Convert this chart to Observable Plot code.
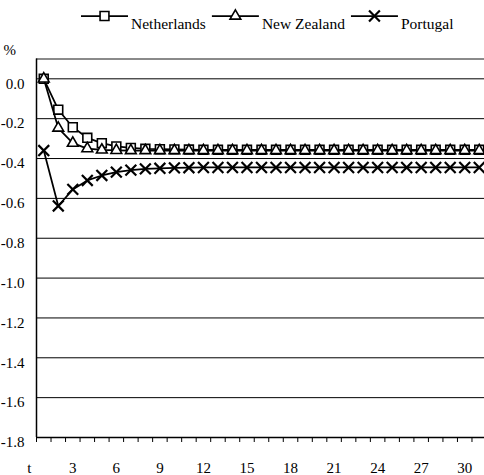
<!DOCTYPE html>
<html><head><meta charset="utf-8">
<script src="https://cdn.jsdelivr.net/npm/d3@7"></script>
<script src="https://cdn.jsdelivr.net/npm/@observablehq/plot@0.6"></script>
<style>
body{margin:0;background:#fff;font-family:"Liberation Serif","Times New Roman",serif}
#legend svg, #chart svg{display:block}
</style>
</head><body><div id="legend"></div><div id="chart"></div>
<script>
const periods = [1,2,3,4,5,6,7,8,9,10,11,12,13,14,15,16,17,18,19,20,21,22,23,24,25,26,27,28,29,30,31];
const netherlands = [0,-0.155,-0.243,-0.296,-0.323,-0.339,-0.347,-0.351,-0.353,-0.354,-0.355,
  -0.356,-0.356,-0.356,-0.356,-0.356,-0.356,-0.356,-0.356,-0.356,-0.356,
  -0.356,-0.356,-0.356,-0.356,-0.356,-0.356,-0.356,-0.356,-0.356,-0.356];
const newZealand = [0,-0.247,-0.323,-0.350,-0.357,-0.359,-0.360,-0.360,-0.360,-0.360,-0.360,
  -0.360,-0.360,-0.360,-0.360,-0.360,-0.360,-0.360,-0.360,-0.360,-0.360,
  -0.360,-0.360,-0.360,-0.360,-0.360,-0.360,-0.360,-0.360,-0.360,-0.360];
const portugal = [-0.360,-0.638,-0.555,-0.510,-0.485,-0.468,-0.458,-0.452,-0.449,-0.447,-0.446,
  -0.445,-0.445,-0.445,-0.445,-0.445,-0.445,-0.445,-0.445,-0.445,-0.445,
  -0.445,-0.445,-0.445,-0.445,-0.445,-0.445,-0.445,-0.445,-0.445,-0.445];
const seriesNames = ["Netherlands", "New Zealand", "Portugal"];
const seriesSymbols = ["square", "triangle", "times"];
const yTicks = [-1.8,-1.6,-1.4,-1.2,-1.0,-0.8,-0.6,-0.4,-0.2,0.0];
const yGrid = [-1.6,-1.4,-1.2,-1.0,-0.8,-0.6,-0.4,-0.2,0.0];
const yTop = 0.1;
const xTickValues = [0,3,6,9,12,15,18,21,24,27,30];
const xTickLabels = ["t","3","6","9","12","15","18","21","24","27","30"];
const unitLabel = "%";

const FONT = '"Liberation Serif","Times New Roman",serif';
const seriesValues = [netherlands, newZealand, portugal];
const rows = seriesNames.map((name, s) => periods.map((p, i) => ({period: p, value: seriesValues[s][i], series: name})));
const boundaries = d3.range(0.5, 32, 1);
const symbolR = {square: 5, triangle: 4, times: 5};
const symbolW = {square: 1.6, triangle: 1.6, times: 2.2};

// Legend
const lg = d3.select("#legend").append("svg").attr("width", 484).attr("height", 32)
  .style("font-family", FONT).style("font-size", "15.5px");
const d3sym = {square: d3.symbolSquare, triangle: d3.symbolTriangle, times: d3.symbolTimes};
let lx = 81;
seriesNames.forEach((name, s) => {
  const sym = seriesSymbols[s];
  lg.append("line").attr("x1", lx).attr("x2", lx + 47).attr("y1", 16).attr("y2", 16)
    .attr("stroke", "black").attr("stroke-width", 1.75);
  lg.append("path").attr("d", d3.symbol(d3sym[sym], Math.PI * symbolR[sym] ** 2)())
    .attr("transform", `translate(${lx + 23.5},16)`)
    .attr("fill", "white").attr("stroke", "black").attr("stroke-width", symbolW[sym]);
  const t = lg.append("text").attr("x", lx + 50).attr("y", 29.3).attr("fill", "black").text(name);
  lx = lx + 50 + t.node().getComputedTextLength() + 6;
});

const H = 443;
const marks = [
  Plot.ruleY(yGrid, {stroke: "black", strokeWidth: 1}),
  Plot.ruleY([yTop], {stroke: "#8a8a8a", strokeWidth: 2}),
  Plot.ruleY([-1.8], {stroke: "black", strokeWidth: 1.5}),
  Plot.ruleX([0.5], {y1: -1.8, y2: yTop, stroke: "black", strokeWidth: 1.5}),
  Plot.axisY({ticks: yTicks, tickSize: 4, tickPadding: 8, tickFormat: d => d.toFixed(1), dy: 5, label: null, fontSize: 15, fill: "black", stroke: null}),
  Plot.axisX({ticks: boundaries, tickSize: 5, tickFormat: () => "", label: null}),
  Plot.axisX({ticks: xTickValues, tickSize: 0, tickPadding: 25, tickFormat: d => xTickLabels[xTickValues.indexOf(d)], label: null, fontSize: 15}),
  Plot.text([unitLabel], {frameAnchor: "top-left", dx: -33, dy: -15, textAnchor: "start", fontSize: 15, fill: "black"})
];
rows.forEach((r, s) => {
  const sym = seriesSymbols[s];
  marks.push(Plot.line(r, {x: "period", y: "value", stroke: "black", strokeWidth: 1.75}));
  marks.push(Plot.dot(r, {x: "period", y: "value", symbol: sym, r: symbolR[sym], stroke: "black", fill: "white", strokeWidth: symbolW[sym]}));
});

const chart = Plot.plot({
  width: 484, height: H,
  marginLeft: 36, marginTop: 26.4, marginBottom: 38, marginRight: 0,
  x: {type: "linear", domain: [0.5, 31.5], range: [36, 486]},
  y: {domain: [-1.8, yTop]},
  style: {fontFamily: FONT, fontSize: "15px", color: "black", background: "white"},
  marks
});
document.getElementById("chart").appendChild(chart);
</script>
</body></html>
